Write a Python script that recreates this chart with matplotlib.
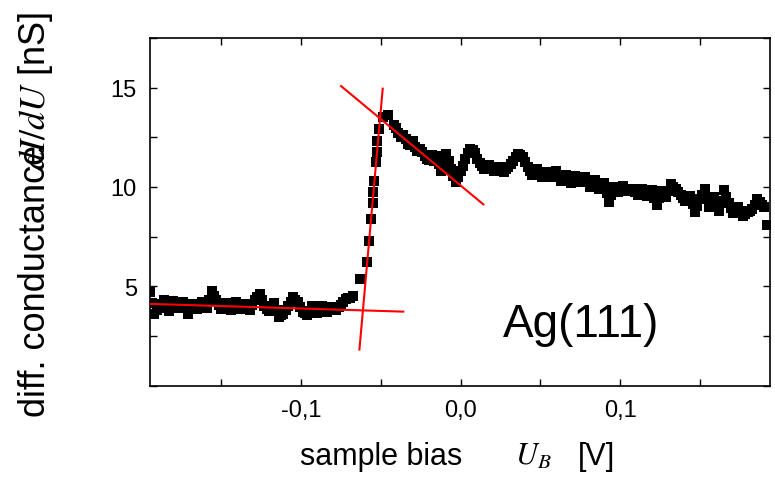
import numpy as np
import matplotlib
matplotlib.use("Agg")
import matplotlib.pyplot as plt
from matplotlib.ticker import MultipleLocator

plt.rcParams["font.family"] = ["Liberation Sans", "DejaVu Sans"]
plt.rcParams["mathtext.fontset"] = "stix"

# --- data (bias in V, conductance in nS) ---
# flat part below the onset, every 3 mV from -195 mV ...
cond_left = [4.7, 3.6, 3.9, 4.3, 3.75, 4.25, 3.9, 4.2, 3.6, 4.1,
             3.85, 4.2, 3.9, 4.75, 4.3, 3.85, 4.15, 3.8, 4.2, 3.85,
             4.1, 3.8, 4.3, 4.6, 4.0, 3.75, 4.15, 3.45, 3.6, 4.0,
             4.45, 4.2, 3.7, 3.55, 4.0, 3.65, 4.0, 3.7, 3.95, 3.8,
             4.05, 4.35, 4.4]
# ... and the points in between (from -193.5 mV)
cond_left_mid = [4.15, 3.8, 4.1, 4.0, 4.0, 4.05, 4.05, 3.9, 3.85, 4.0,
                 4.0, 4.05, 4.3, 4.5, 4.05, 4.0, 3.95, 4.0, 4.0, 3.95,
                 3.95, 4.05, 4.45, 4.3, 3.85, 3.95, 3.8, 3.55, 3.8, 4.2,
                 4.3, 3.95, 3.65, 3.75, 3.8, 3.85, 3.85, 3.85, 3.9, 3.95,
                 4.2, 4.4]
# steep surface-state onset
bias_edge = [-0.0674, -0.0630, -0.0588, -0.0572, -0.0561, -0.0550, -0.0547,
             -0.0540, -0.0530, -0.0522, -0.0522, -0.0509, -0.0484, -0.0453]
cond_edge = [4.51, 5.37, 6.22, 7.29, 8.38, 9.19, 9.74,
             10.31, 11.25, 11.75, 12.32, 12.90, 13.51, 13.61]
# decaying part above the onset, every 3 mV from -42 mV ...
cond_right = [13.1, 12.7, 12.6, 12.15, 12.3, 11.8, 11.75, 11.4, 11.6, 11.55,
              10.8, 11.65, 10.9, 10.25, 10.8, 11.4, 11.9, 11.7, 11.2, 10.9,
              11.1, 10.8, 11.0, 10.75, 11.0, 11.3, 11.65, 11.5, 11.0, 10.6,
              10.9, 10.5, 10.75, 10.5, 10.8, 10.3, 10.6, 10.2, 10.55, 10.25,
              10.5, 10.0, 10.35, 9.9, 10.2, 9.25, 10.0, 9.75, 10.05, 9.8,
              9.9, 9.6, 9.9, 9.55, 9.85, 9.1, 9.8, 9.5, 10.15, 9.9,
              9.6, 9.3, 9.55, 8.75, 9.4, 9.9, 9.0, 9.5, 8.8, 9.85,
              9.2, 8.7, 9.0, 8.55, 8.75, 8.9, 9.4, 9.1, 8.1]
# ... and the points in between (from -40.5 mV)
cond_right_mid = [12.95, 12.5, 12.4, 12.1, 12.0, 11.9, 11.55, 11.35, 11.3, 11.15,
                  11.25, 11.3, 10.55, 10.5, 11.05, 11.7, 11.85, 11.4, 11.05, 10.95,
                  10.9, 10.9, 10.85, 10.9, 11.15, 11.5, 11.6, 11.25, 10.8, 10.7,
                  10.7, 10.6, 10.6, 10.6, 10.5, 10.45, 10.4, 10.35, 10.4, 10.35,
                  10.25, 10.15, 10.1, 10.0, 9.7, 9.6, 9.85, 9.9, 9.9, 9.85,
                  9.75, 9.75, 9.7, 9.7, 9.45, 9.45, 9.65, 9.8, 10.0, 9.75,
                  9.45, 9.4, 9.15, 9.05, 9.6, 9.45, 9.25, 9.15, 9.3, 9.5,
                  8.95, 8.85, 8.8, 8.65, 8.8, 9.1, 9.25, 9.0]

bias_left = -0.195 + 0.003 * np.arange(len(cond_left))
bias_left_mid = -0.1935 + 0.003 * np.arange(len(cond_left_mid))
bias_right = -0.042 + 0.003 * np.arange(len(cond_right))
bias_right_mid = -0.0405 + 0.003 * np.arange(len(cond_right_mid))

bias = np.concatenate([bias_left, bias_left_mid, bias_edge,
                       bias_right, bias_right_mid])
cond = np.concatenate([cond_left, cond_left_mid, cond_edge,
                       cond_right, cond_right_mid])

# red tangent lines (end points)
base_x, base_y = [-0.1947, -0.0359], [4.11, 3.72]
rise_x, rise_y = [-0.0634, -0.0488], [1.81, 14.95]
fall_x, fall_y = [-0.0749, 0.0143], [15.08, 9.12]

x_ticks = [-0.1, 0.0, 0.1]
x_tick_labels = ["-0,1", "0,0", "0,1"]
y_ticks = [5, 10, 15]

# --- figure ---
W, H = 775, 485
fig = plt.figure(figsize=(W / 100, H / 100), dpi=100)
ax = fig.add_axes([149.5 / W, 1 - 386.5 / H, 620.5 / W, 347.5 / H])

ax.plot(bias, cond, "s", color="black", ms=7.5, mew=0, zorder=2)
for xs, ys in [(base_x, base_y), (rise_x, rise_y), (fall_x, fall_y)]:
    ax.plot(xs, ys, color="#ff0000", lw=1.5, zorder=3)

ax.set_xlim(-0.195, 0.194)
ax.set_ylim(0, 17.5)
ax.set_xticks(x_ticks, x_tick_labels)
ax.set_yticks(y_ticks)
ax.xaxis.set_minor_locator(MultipleLocator(0.05))
ax.yaxis.set_minor_locator(MultipleLocator(2.5))
ax.tick_params(which="both", direction="in", top=True, right=True,
               length=5, width=1, labelsize=17)
ax.tick_params(axis="x", pad=10)
ax.tick_params(axis="y", pad=9)
for s in ax.spines.values():
    s.set_linewidth(1.2)

ax.text(0.0755, 3.11, "Ag(111)", fontsize=33, ha="center", va="center")

# axis labels
yb = 1 - 465 / H
fig.text(300 / W, yb, "sample bias", fontsize=22, ha="left", va="baseline")
fig.text(515 / W, yb, r"$U_B$", fontsize=22, ha="left", va="baseline")
fig.text(578 / W, yb, "[V]", fontsize=22, ha="left", va="baseline")

fig.text(45 / W, 1 - 417 / H, "diff. conductance", fontsize=26, rotation=90,
         rotation_mode="anchor", ha="left", va="baseline")
fig.text(45 / W, 1 - 12 / H, r"$dI/dU$ [nS]", fontsize=26, rotation=90,
         rotation_mode="anchor", ha="right", va="baseline")

fig.savefig("out.png", dpi=100)
